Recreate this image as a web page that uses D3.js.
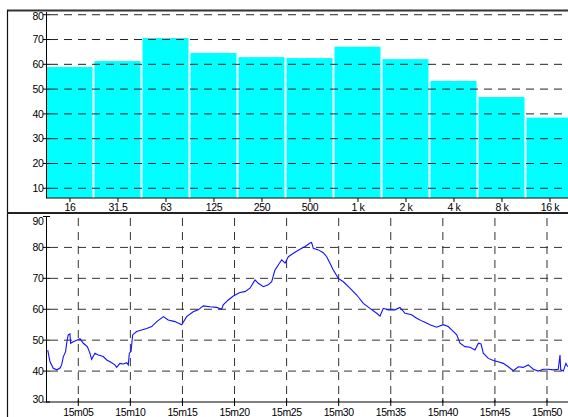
<!DOCTYPE html>
<html><head><meta charset="utf-8">
<script src="https://cdn.jsdelivr.net/npm/d3@7"></script>
<style>
html,body{margin:0;padding:0;background:#fff;}
svg{display:block;font-family:"Liberation Sans",Arial,sans-serif;}
</style></head>
<body>
<svg id="c" width="568" height="417"></svg>
<script>
// ---- Data ----
const bandLabels = ["16","31.5","63","125","250","500","1 k","2 k","4 k","8 k","16 k"];
const bandValues = [58.9, 61.3, 70.6, 64.6, 62.9, 62.5, 67.1, 62.1, 53.3, 46.8, 38.5];
const barTicks = [10,20,30,40,50,60,70,80];

// time in seconds after 15:00
const timeSec = [124,137,156,176,195,204,214,227,233,242,252,256,271,291,310,329,352,367,377,396,415,444,464,483,511,521,540,559,579,588,594,604,613,636,665,694,723,752,790,818,857,896,924,962,991,1020,1059,1097,1126,1135,1164,1193,1231,1260,1289,1318,1337,1366,1394,1414,1433,1452,1472,1491,1510,1539,1577,1606,1635,1644,1654,1683,1711,1731,1750,1769,1798,1827,1865,1904,1942,1980,2019,2038,2057,2086,2124,2153,2182,2220,2249,2287,2326,2364,2402,2431,2451,2480,2499,2528,2557,2585,2605,2620,2633,2662,2691,2719,2748,2777,2806,2835,2863,2892,2921,2950,2979,3007,3036,3065,3075,3079,3094,3109,3119];
const levels = [46.8,43,40.9,40.4,41,42,44.7,46.3,49,51.7,52,49,49.5,50,50.5,49,47.9,45.8,43.8,45.8,45.2,44.7,43.6,43,42,41.2,42.5,42.3,42.7,42,45.8,46.3,51.7,52.8,53.3,53.8,54.4,56,57.6,56.5,56,55,57.6,59.2,59.8,61.1,60.8,60.6,60,61.4,63,64.3,65.4,65.7,66.8,69.5,68.4,67.3,67.9,68.9,72.7,74.3,76,74.9,77,78.1,79.4,80.3,81.4,81.6,79.7,79.2,78.3,77,74.9,72.7,70,68.9,66.8,64.6,61.9,60.3,58.7,57.8,60.3,59.8,59.8,60.6,58.7,58.2,57.1,56,55,54.2,55,54.4,53.3,51.7,49,47.9,47.7,46.8,49,48.8,45.8,44.1,43.4,43,42.5,41.4,40.1,41.4,41.2,42,40.6,40,40.6,40.6,40.4,40.6,45.2,40.4,40,42.5,41.4];
const levelTicks = [30,40,50,60,70,80,90];
const timeTicks = [300,600,900,1200,1500,1800,2100,2400,2700,3000];
const timeTickLabels = ["15m05","15m10","15m15","15m20","15m25","15m30","15m35","15m40","15m45","15m50"];

const svg = d3.select("#c");
const L = 46, R = 568;

// ---- Frame ----
svg.append("line").attr("x1",7).attr("x2",568).attr("y1",10.5).attr("y2",10.5).attr("stroke","#333").attr("stroke-width",2);
svg.append("line").attr("x1",7.5).attr("x2",7.5).attr("y1",10).attr("y2",417).attr("stroke","#111").attr("stroke-width",1.2);
svg.append("line").attr("x1",7).attr("x2",568).attr("y1",213).attr("y2",213).attr("stroke","#222").attr("stroke-width",2);

// ---- Top panel: bars ----
const xb = d3.scaleBand().domain(bandLabels).range([L, L + 48*11]).paddingInner(0).paddingOuter(0);
const yb = d3.scaleLinear().domain([6.2, 81.1]).range([197.7, 12]);
const gTop = svg.append("g");
gTop.selectAll("rect.bar").data(bandLabels).join("rect")
  .attr("x", d => xb(d) + 0.5)
  .attr("width", xb.bandwidth() - 2)
  .attr("y", (d,i) => yb(bandValues[i]))
  .attr("height", (d,i) => yb.range()[0] - yb(bandValues[i]))
  .attr("fill", "#00FFFF");
gTop.selectAll("line.g").data(barTicks).join("line")
  .attr("x1", L).attr("x2", R).attr("y1", d => yb(d)).attr("y2", d => yb(d))
  .attr("stroke", "#222").attr("stroke-width", 1).attr("stroke-dasharray", "8,6").attr("stroke-dashoffset", -4);
gTop.append("line").attr("x1", L+0.5).attr("x2", L+0.5).attr("y1", 12).attr("y2", 198).attr("stroke","#000");
gTop.selectAll("line.yt").data(barTicks).join("line")
  .attr("x1", L-3).attr("x2", L+4).attr("y1", d => yb(d)).attr("y2", d => yb(d)).attr("stroke","#000");
gTop.selectAll("text.yl").data(barTicks).join("text")
  .attr("x", L-2.5).attr("y", d => Math.max(yb(d), 16)).attr("dy","0.35em")
  .attr("text-anchor","end").attr("font-size",10.5).attr("letter-spacing","-0.4").text(d => d);
gTop.append("line").attr("x1", L).attr("x2", R).attr("y1", 198).attr("y2", 198).attr("stroke","#000");
gTop.selectAll("line.xt").data(bandLabels).join("line")
  .attr("x1", d => xb(d) + xb.bandwidth()/2).attr("x2", d => xb(d) + xb.bandwidth()/2)
  .attr("y1", 198).attr("y2", 202).attr("stroke","#000");
gTop.selectAll("text.xl").data(bandLabels).join("text")
  .attr("x", d => xb(d) + xb.bandwidth()/2).attr("y", 207).attr("dy","0.35em")
  .attr("text-anchor","middle").attr("font-size",10.5).attr("letter-spacing","-0.3").text(d => d);

// ---- Bottom panel: time series ----
const xt = d3.scaleLinear().domain([114, 3121]).range([L, R]);
const yt = d3.scaleLinear().domain([30, 90]).range([402, 216.5]);
const gBot = svg.append("g");
gBot.selectAll("line.hg").data(levelTicks.filter(d => d > 30 && d < 90)).join("line")
  .attr("x1", L).attr("x2", R).attr("y1", d => yt(d)).attr("y2", d => yt(d))
  .attr("stroke", "#333").attr("stroke-width", 1).attr("stroke-dasharray", "8,6").attr("stroke-dashoffset", -4);
gBot.selectAll("line.vg").data(timeTicks).join("line")
  .attr("x1", d => xt(d)).attr("x2", d => xt(d)).attr("y1", 216).attr("y2", 402)
  .attr("stroke", "#333").attr("stroke-width", 1).attr("stroke-dasharray", "8,6").attr("stroke-dashoffset", -2);
const line = d3.line().x((d,i) => xt(timeSec[i])).y(d => yt(d)).curve(d3.curveLinear);
gBot.append("path").datum(levels).attr("d", line).attr("fill","none").attr("stroke","#1010ff").attr("stroke-width",1.1).attr("stroke-linejoin","miter");
gBot.append("line").attr("x1", L+0.5).attr("x2", L+0.5).attr("y1", 216).attr("y2", 402).attr("stroke","#000");
gBot.selectAll("line.yt").data(levelTicks).join("line")
  .attr("x1", L-3).attr("x2", L+4).attr("y1", d => yt(d)).attr("y2", d => yt(d)).attr("stroke","#000");
gBot.selectAll("text.yl").data(levelTicks).join("text")
  .attr("x", L-2.5).attr("y", d => Math.min(Math.max(yt(d), 221.5), 399.5)).attr("dy","0.35em")
  .attr("text-anchor","end").attr("font-size",10.5).attr("letter-spacing","-0.4").text(d => d);
gBot.append("line").attr("x1", L).attr("x2", R).attr("y1", 402).attr("y2", 402).attr("stroke","#000");
gBot.selectAll("line.xt").data(timeTicks).join("line")
  .attr("x1", d => xt(d)).attr("x2", d => xt(d)).attr("y1", 398).attr("y2", 406).attr("stroke","#000");
gBot.selectAll("text.xl").data(timeTicks).join("text")
  .attr("x", d => xt(d)).attr("y", 412).attr("dy","0.35em")
  .attr("text-anchor","middle").attr("font-size",10.5).attr("letter-spacing","-0.4").text((d,i) => timeTickLabels[i]);
</script>
</body></html>
